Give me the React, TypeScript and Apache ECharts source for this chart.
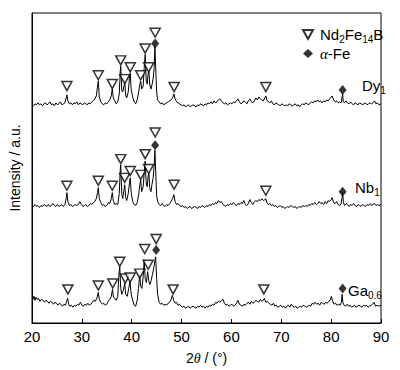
import React, { useEffect, useRef } from "react";
import * as echarts from "echarts";

// [2θ (°), intensity above own baseline]
const DY1: [number, number][] = [
  [20.0, 1], [20.3, 0], [20.6, 2], [20.9, 1], [21.2, 3], [21.5, 1], [21.8, 2], [22.1, 0], [22.4, 2], [22.7, 3],
  [23.0, 1], [23.3, 2], [23.6, 4], [23.9, 1], [24.2, 2], [24.5, 0], [24.8, 3], [25.1, 1], [25.4, 2], [25.7, 4],
  [26.0, 1], [26.3, 2], [26.6, 3], [26.85, 8], [27.0, 11], [27.2, 5], [27.5, 2], [27.8, 3], [28.1, 1], [28.4, 3],
  [28.7, 2], [29.0, 4], [29.3, 1], [29.6, 3], [29.9, 2], [30.2, 1], [30.5, 3], [30.8, 2], [31.1, 1], [31.4, 3],
  [31.7, 2], [32.0, 4], [32.3, 5], [32.6, 7], [32.9, 10], [33.15, 20], [33.3, 25], [33.5, 9], [33.8, 4], [34.1, 2],
  [34.4, 1], [34.7, 3], [35.0, 2], [35.3, 4], [35.6, 6], [35.9, 10], [36.1, 17], [36.3, 8], [36.6, 5], [36.9, 2],
  [37.2, 4], [37.5, 12], [37.7, 35], [37.8, 40], [38.0, 16], [38.2, 14], [38.45, 20], [38.6, 24], [38.8, 10], [39.0, 8],
  [39.3, 14], [39.55, 28], [39.7, 33], [39.9, 16], [40.2, 9], [40.5, 4], [40.8, 2], [41.1, 6], [41.4, 14], [41.65, 22],
  [41.8, 25], [42.0, 17], [42.3, 20], [42.5, 38], [42.7, 52], [42.9, 26], [43.1, 22], [43.3, 33], [43.45, 36], [43.6, 22],
  [43.85, 17], [44.1, 22], [44.3, 28], [44.5, 38], [44.65, 60], [44.8, 40], [45.0, 14], [45.2, 6], [45.5, 4], [45.8, 2],
  [46.1, 3], [46.4, 1], [46.7, 2], [47.0, 3], [47.3, 4], [47.6, 5], [47.9, 6], [48.2, 8], [48.45, 12], [48.7, 7],
  [49.0, 4], [49.3, 3], [49.6, 2], [49.9, 1], [50.2, 0], [50.5, 1], [50.8, -1], [51.1, 0], [51.4, 1], [51.7, -1],
  [52.0, 0], [52.3, 1], [52.6, 0], [52.9, -1], [53.2, 1], [53.5, 0], [53.8, 2], [54.1, 1], [54.4, 0], [54.7, 2],
  [55.0, 1], [55.3, 3], [55.6, 2], [55.9, 4], [56.2, 2], [56.5, 5], [56.8, 3], [57.1, 4], [57.4, 6], [57.7, 7],
  [58.0, 5], [58.3, 3], [58.6, 2], [58.9, 3], [59.2, 1], [59.5, 2], [59.8, 3], [60.1, 2], [60.4, 4], [60.7, 3],
  [61.0, 5], [61.3, 7], [61.6, 4], [61.9, 2], [62.2, 3], [62.5, 5], [62.8, 4], [63.1, 2], [63.4, 5], [63.7, 7],
  [64.0, 4], [64.3, 3], [64.6, 5], [64.9, 8], [65.2, 6], [65.5, 9], [65.8, 7], [66.1, 6], [66.4, 5], [66.7, 8],
  [66.9, 10], [67.1, 6], [67.4, 4], [67.7, 3], [68.0, 5], [68.3, 2], [68.6, 1], [68.9, 3], [69.2, 2], [69.5, 1],
  [69.8, 0], [70.1, 2], [70.4, 1], [70.7, 0], [71.0, 1], [71.3, 0], [71.6, 2], [71.9, 1], [72.2, 0], [72.5, 1],
  [72.8, 2], [73.1, 0], [73.4, 1], [73.7, -1], [74.0, 1], [74.3, 2], [74.6, 1], [74.9, 3], [75.2, 2], [75.5, 1],
  [75.8, 3], [76.1, 4], [76.4, 3], [76.7, 5], [77.0, 4], [77.3, 6], [77.6, 4], [77.9, 5], [78.2, 3], [78.5, 5],
  [78.8, 4], [79.1, 6], [79.4, 5], [79.7, 7], [80.0, 9], [80.2, 10], [80.5, 6], [80.8, 4], [81.1, 5], [81.4, 3],
  [81.7, 4], [82.0, 3], [82.2, 9], [82.3, 12], [82.45, 4], [82.7, 3], [83.0, 5], [83.3, 3], [83.6, 2], [83.9, 4],
  [84.2, 2], [84.5, 1], [84.8, 3], [85.1, 2], [85.4, 1], [85.7, 3], [86.0, 2], [86.3, 1], [86.6, 2], [86.9, 3],
  [87.2, 1], [87.5, 2], [87.8, 3], [88.1, 2], [88.4, 3], [88.7, 5], [89.0, 2], [89.3, 3], [89.6, 1], [90.0, 2],
];

const NB1: [number, number][] = [
  [20.0, 2], [20.3, 1], [20.6, 3], [20.9, 1], [21.2, 2], [21.5, 0], [21.8, 2], [22.1, 1], [22.4, 3], [22.7, 2],
  [23.0, 1], [23.3, 3], [23.6, 1], [23.9, 2], [24.2, 4], [24.5, 2], [24.8, 1], [25.1, 3], [25.4, 1], [25.7, 2],
  [26.0, 3], [26.3, 1], [26.6, 3], [26.85, 9], [27.0, 15], [27.2, 6], [27.5, 2], [27.8, 3], [28.1, 1], [28.4, 2],
  [28.7, 3], [29.0, 2], [29.3, 3], [29.6, 6], [29.9, 3], [30.2, 1], [30.5, 2], [30.8, 3], [31.1, 1], [31.4, 2],
  [31.7, 4], [32.0, 3], [32.3, 5], [32.6, 6], [32.9, 9], [33.15, 15], [33.3, 20], [33.5, 9], [33.8, 5], [34.1, 2],
  [34.4, 3], [34.7, 1], [35.0, 2], [35.3, 5], [35.6, 4], [35.9, 9], [36.1, 15], [36.3, 7], [36.6, 3], [36.9, 4],
  [37.2, 3], [37.5, 14], [37.7, 38], [37.8, 43], [38.0, 14], [38.2, 9], [38.45, 18], [38.6, 23], [38.8, 10], [39.0, 7],
  [39.3, 14], [39.55, 25], [39.7, 30], [39.9, 15], [40.2, 6], [40.5, 3], [40.8, 2], [41.1, 5], [41.4, 13], [41.65, 24],
  [41.8, 28], [42.0, 16], [42.3, 21], [42.5, 35], [42.7, 47], [42.9, 25], [43.1, 21], [43.3, 32], [43.45, 35], [43.6, 20],
  [43.85, 16], [44.05, 23], [44.3, 30], [44.5, 42], [44.65, 58], [44.8, 38], [45.0, 12], [45.2, 6], [45.5, 3], [45.8, 2],
  [46.1, 4], [46.4, 2], [46.7, 1], [47.0, 3], [47.3, 2], [47.6, 4], [47.9, 6], [48.2, 9], [48.45, 13], [48.7, 6],
  [49.0, 3], [49.3, 4], [49.6, 2], [49.9, 1], [50.2, 2], [50.5, 0], [50.8, 1], [51.1, -1], [51.4, 0], [51.7, 1],
  [52.0, -1], [52.3, 0], [52.6, 1], [52.9, 0], [53.2, -1], [53.5, 1], [53.8, 0], [54.1, 2], [54.4, 1], [54.7, 0],
  [55.0, 2], [55.3, 1], [55.6, 3], [55.9, 2], [56.2, 4], [56.5, 3], [56.8, 5], [57.1, 4], [57.4, 7], [57.7, 5],
  [58.0, 6], [58.3, 3], [58.6, 2], [58.9, 1], [59.2, 3], [59.5, 2], [59.8, 4], [60.1, 3], [60.4, 5], [60.7, 3],
  [61.0, 2], [61.3, 4], [61.6, 3], [61.9, 5], [62.2, 4], [62.5, 7], [62.8, 3], [63.1, 2], [63.4, 4], [63.7, 8],
  [64.0, 5], [64.3, 3], [64.6, 6], [64.9, 7], [65.2, 6], [65.5, 8], [65.8, 7], [66.1, 9], [66.4, 7], [66.7, 8],
  [66.9, 9], [67.1, 5], [67.4, 3], [67.7, 4], [68.0, 2], [68.3, 3], [68.6, 1], [68.9, 2], [69.2, 0], [69.5, 1],
  [69.8, 2], [70.1, 0], [70.4, 1], [70.7, -1], [71.0, 0], [71.3, 1], [71.6, 0], [71.9, 2], [72.2, 1], [72.5, 0],
  [72.8, 1], [73.1, -1], [73.4, 0], [73.7, 1], [74.0, 0], [74.3, 2], [74.6, 1], [74.9, 2], [75.2, 1], [75.5, 3],
  [75.8, 2], [76.1, 4], [76.4, 3], [76.7, 5], [77.0, 3], [77.3, 4], [77.6, 6], [77.9, 4], [78.2, 5], [78.5, 3],
  [78.8, 6], [79.1, 4], [79.4, 7], [79.7, 6], [80.0, 8], [80.2, 10], [80.5, 5], [80.8, 4], [81.1, 6], [81.4, 3],
  [81.7, 2], [82.0, 4], [82.2, 10], [82.3, 15], [82.45, 5], [82.7, 2], [83.0, 4], [83.3, 3], [83.6, 1], [83.9, 3],
  [84.2, 2], [84.5, 4], [84.8, 2], [85.1, 1], [85.4, 3], [85.7, 2], [86.0, 1], [86.3, 3], [86.6, 2], [86.9, 1],
  [87.2, 3], [87.5, 2], [87.8, 4], [88.1, 2], [88.4, 3], [88.7, 4], [89.0, 2], [89.3, 3], [89.6, 2], [90.0, 3],
];

const GA06: [number, number][] = [
  [20.0, 11], [20.2, 9], [20.4, 12], [20.6, 8], [20.8, 11], [21.0, 9], [21.3, 10], [21.6, 7], [21.9, 9], [22.2, 8],
  [22.5, 6], [22.8, 8], [23.1, 7], [23.4, 5], [23.7, 7], [24.0, 6], [24.3, 4], [24.6, 6], [24.9, 5], [25.2, 3],
  [25.5, 5], [25.8, 4], [26.1, 2], [26.4, 4], [26.7, 3], [26.95, 7], [27.15, 10], [27.35, 4], [27.6, 2], [27.9, 3],
  [28.2, 1], [28.5, 3], [28.8, 2], [29.1, 4], [29.4, 3], [29.7, 6], [30.0, 3], [30.3, 2], [30.6, 4], [30.9, 3],
  [31.2, 5], [31.5, 3], [31.8, 4], [32.1, 6], [32.4, 8], [32.7, 7], [33.0, 10], [33.3, 16], [33.5, 9], [33.8, 6],
  [34.1, 4], [34.4, 5], [34.7, 3], [35.0, 4], [35.3, 7], [35.6, 9], [35.9, 12], [36.15, 19], [36.35, 11], [36.6, 10],
  [36.9, 8], [37.2, 12], [37.45, 35], [37.6, 42], [37.8, 20], [38.0, 14], [38.3, 18], [38.6, 25], [38.8, 14], [39.1, 12],
  [39.4, 20], [39.65, 27], [39.9, 14], [40.2, 8], [40.5, 3], [40.8, 2], [41.1, 8], [41.35, 20], [41.6, 34], [41.8, 22],
  [42.05, 20], [42.3, 32], [42.5, 49], [42.7, 30], [42.95, 26], [43.2, 37], [43.4, 28], [43.65, 24], [43.9, 28], [44.15, 34],
  [44.4, 40], [44.65, 48], [44.8, 52], [45.0, 30], [45.2, 14], [45.5, 6], [45.8, 4], [46.1, 5], [46.4, 3], [46.7, 4],
  [47.0, 3], [47.3, 5], [47.6, 6], [47.9, 9], [48.15, 13], [48.4, 8], [48.7, 5], [49.0, 6], [49.3, 3], [49.6, 4],
  [49.9, 2], [50.2, 1], [50.5, 2], [50.8, 0], [51.1, 1], [51.4, 2], [51.7, 0], [52.0, 1], [52.3, 2], [52.6, 1],
  [52.9, 0], [53.2, 2], [53.5, 1], [53.8, 3], [54.1, 1], [54.4, 2], [54.7, 0], [55.0, 2], [55.3, 1], [55.6, 3],
  [55.9, 2], [56.2, 4], [56.5, 3], [56.8, 6], [57.1, 5], [57.4, 7], [57.7, 6], [58.0, 8], [58.3, 9], [58.6, 5],
  [58.9, 3], [59.2, 4], [59.5, 2], [59.8, 3], [60.1, 4], [60.4, 2], [60.7, 3], [61.0, 5], [61.3, 8], [61.6, 4],
  [61.9, 3], [62.2, 2], [62.5, 4], [62.8, 3], [63.1, 5], [63.4, 6], [63.7, 4], [64.0, 7], [64.3, 5], [64.6, 6],
  [64.9, 8], [65.2, 7], [65.5, 6], [65.8, 9], [66.1, 7], [66.4, 8], [66.6, 10], [66.9, 6], [67.2, 7], [67.5, 5],
  [67.8, 4], [68.1, 3], [68.4, 5], [68.7, 2], [69.0, 3], [69.3, 1], [69.6, 2], [69.9, 3], [70.2, 1], [70.5, 2],
  [70.8, 0], [71.1, 2], [71.4, 3], [71.7, 1], [72.0, 4], [72.3, 2], [72.6, 1], [72.9, 2], [73.2, 0], [73.5, 1],
  [73.8, 2], [74.1, 1], [74.4, 3], [74.7, 2], [75.0, 1], [75.3, 2], [75.6, 3], [75.9, 2], [76.2, 5], [76.5, 4],
  [76.8, 6], [77.1, 4], [77.4, 5], [77.7, 3], [78.0, 6], [78.3, 5], [78.6, 4], [78.9, 6], [79.2, 5], [79.5, 7],
  [79.8, 8], [80.05, 12], [80.3, 7], [80.6, 4], [80.9, 5], [81.2, 3], [81.5, 4], [81.8, 3], [82.05, 6], [82.2, 14],
  [82.35, 6], [82.6, 3], [82.9, 2], [83.2, 4], [83.5, 2], [83.8, 3], [84.1, 1], [84.4, 2], [84.7, 3], [85.0, 1],
  [85.3, 2], [85.6, 3], [85.9, 2], [86.2, 1], [86.5, 3], [86.8, 2], [87.1, 3], [87.4, 1], [87.7, 2], [88.0, 3],
  [88.3, 4], [88.6, 6], [88.9, 2], [89.2, 3], [89.5, 2], [90.0, 3],
];

// vertical stacking offsets of the three patterns
const OFFSET_DY1 = 220;
const OFFSET_NB1 = 117;
const OFFSET_GA06 = 15;

// peak markers [2θ, level on the stacked scale]
const ND2FE14B_DY1: [number, number][] = [
  [27.0, 240], [33.3, 251], [36.1, 242], [37.8, 266], [38.6, 247], [39.7, 259],
  [41.8, 251], [42.7, 278], [43.4, 259], [44.7, 294], [48.5, 239], [66.9, 239],
];
const ALPHAFE_DY1: [number, number][] = [[44.7, 283], [82.3, 236]];

const ND2FE14B_NB1: [number, number][] = [
  [27.0, 139], [33.3, 144], [36.1, 139], [37.8, 166], [38.6, 147], [39.7, 154],
  [41.8, 150], [42.7, 171], [43.4, 156], [44.7, 193], [48.5, 140], [66.9, 134],
];
const ALPHAFE_NB1: [number, number][] = [[44.7, 180], [82.3, 133]];

const ND2FE14B_GA06: [number, number][] = [
  [27.2, 34], [33.3, 38], [36.2, 40], [37.6, 62], [38.7, 45], [39.7, 46],
  [41.6, 50], [42.6, 75], [43.3, 59], [44.9, 85], [48.3, 34], [66.5, 34],
];
const ALPHAFE_GA06: [number, number][] = [[44.9, 74], [82.3, 35]];

const X_MIN = 20;
const X_MAX = 90;
const X_STEP = 10;

const TRI_PATH = "path://M0,0L10,0L5,9Z";

const shift = (d: [number, number][], off: number) => d.map(([a, v]) => [a, v + off]);

export default function App() {
  const ref = useRef<HTMLDivElement>(null);
  useEffect(() => {
    document.body.style.margin = "0";
    if (!ref.current) return;
    const chart = echarts.init(ref.current, undefined, { renderer: "svg" });
    const sub = { fontSize: 10, padding: [9, 0, 0, 0], fontFamily: "Liberation Sans", color: "#000" };
    const main = { fontSize: 15, fontFamily: "Liberation Sans", color: "#000" };
    const lineSeries = (name: string, d: [number, number][], off: number) => ({
      name,
      type: "line",
      data: shift(d, off),
      showSymbol: false,
      symbol: "none",
      lineStyle: { color: "#000", width: 1 },
      z: 2,
    });
    chart.setOption({
      animation: false,
      textStyle: { fontFamily: "Liberation Sans", color: "#000" },
      grid: { left: 30, right: 19, top: 13, bottom: 43, show: true, borderColor: "#000", borderWidth: 1 },
      legend: {
        orient: "vertical",
        left: 297,
        top: 22,
        itemWidth: 10,
        itemHeight: 9,
        itemGap: 2,
        data: [
          { name: "Nd2Fe14B", icon: TRI_PATH },
          { name: "α-Fe", icon: "diamond" },
        ],
        formatter: (n: string) => (n === "Nd2Fe14B" ? "{a|Nd}{s|2}{a|Fe}{s|14}{a|B}" : "{i|α}{a|-Fe}"),
        textStyle: {
          padding: [0, 0, 0, 2],
          rich: {
            a: main,
            s: sub,
            i: { fontSize: 15, fontFamily: "Liberation Serif", fontStyle: "italic", color: "#000" },
          },
        },
      },
      xAxis: {
        type: "value",
        min: X_MIN,
        max: X_MAX,
        interval: X_STEP,
        axisLine: { lineStyle: { color: "#000", width: 1 } },
        axisTick: { inside: true, length: 4, lineStyle: { color: "#000" } },
        axisLabel: { fontSize: 15, color: "#000", margin: 6 },
        splitLine: { show: false },
        name: "{a|2}{i|θ}{a| / (°)}",
        nameLocation: "middle",
        nameGap: 28,
        nameTextStyle: {
          rich: {
            a: { fontSize: 14, fontFamily: "Liberation Sans", color: "#000" },
            i: { fontSize: 14, fontFamily: "Liberation Serif", fontStyle: "italic", color: "#000" },
          },
        },
      },
      yAxis: {
        type: "value",
        min: 0,
        max: 314,
        axisLine: { show: true, lineStyle: { color: "#000" } },
        axisTick: { show: false },
        axisLabel: { show: false },
        splitLine: { show: false },
        name: "Intensity / a.u.",
        nameLocation: "middle",
        nameGap: 10,
        nameTextStyle: { fontSize: 14, color: "#000", fontFamily: "Liberation Sans" },
      },
      graphic: [
        { type: "text", left: 362, top: 78, style: { text: "{a|Dy}{s|1}", rich: { a: main, s: sub } } },
        { type: "text", left: 355, top: 180, style: { text: "{a|Nb}{s|1}", rich: { a: main, s: sub } } },
        { type: "text", left: 348, top: 283, style: { text: "{a|Ga}{s|0.6}", rich: { a: main, s: sub } } },
      ],
      series: [
        lineSeries("Dy1", DY1, OFFSET_DY1),
        lineSeries("Nb1", NB1, OFFSET_NB1),
        lineSeries("Ga0.6", GA06, OFFSET_GA06),
        {
          name: "Nd2Fe14B",
          type: "scatter",
          symbol: TRI_PATH,
          symbolSize: [10, 9],
          itemStyle: { color: "#fff", borderColor: "#000", borderWidth: 1.5 },
          data: [...ND2FE14B_DY1, ...ND2FE14B_NB1, ...ND2FE14B_GA06],
          z: 5,
        },
        {
          name: "α-Fe",
          type: "scatter",
          symbol: "diamond",
          symbolSize: [8, 10],
          itemStyle: { color: "#000" },
          data: [...ALPHAFE_DY1, ...ALPHAFE_NB1, ...ALPHAFE_GA06],
          z: 6,
        },
      ],
    });
    return () => chart.dispose();
  }, []);
  return <div ref={ref} style={{ width: 400, height: 370 }} />;
}
